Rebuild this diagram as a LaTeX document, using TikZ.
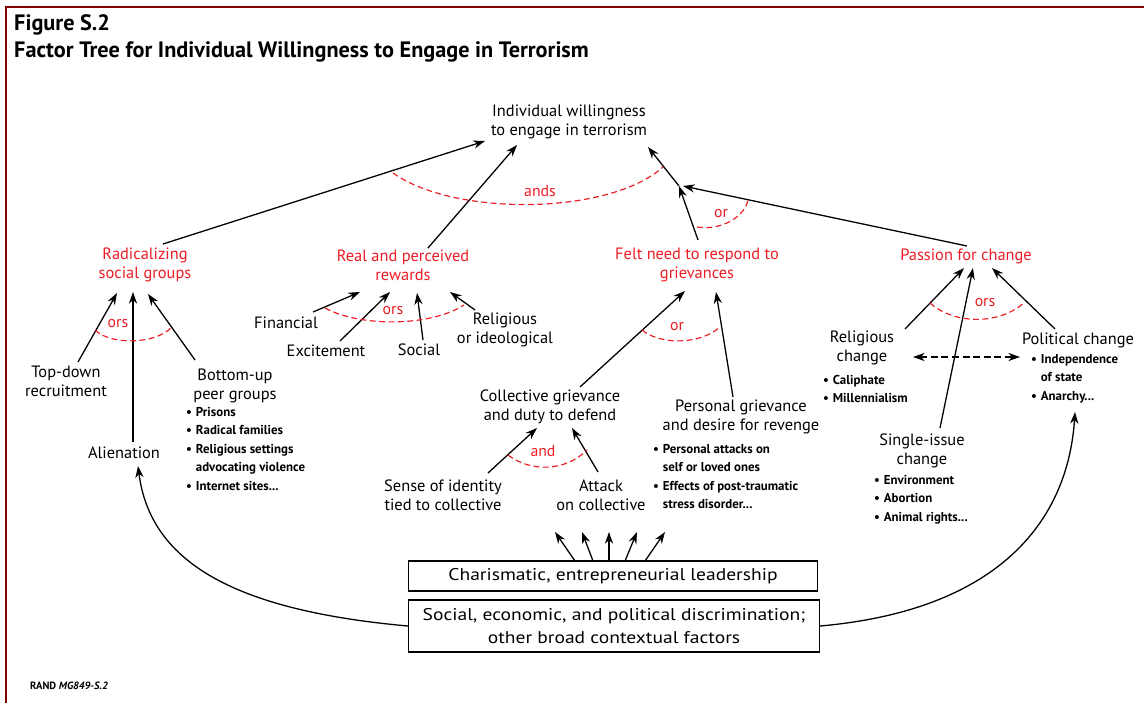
\documentclass[tikz,border=0pt]{standalone}
\usepackage{fontspec}
\setmainfont{PT Sans}
\usetikzlibrary{arrows.meta, calc, positioning}
\definecolor{factred}{RGB}{236,28,36}
\definecolor{framered}{RGB}{128,0,0}
\tikzset{
    lbl/.style={align=center, font=\fontsize{14}{16.3}\selectfont, inner sep=1pt},
    redlbl/.style={lbl, text=factred},
    oplbl/.style={text=factred, font=\fontsize{13.5}{15}\selectfont, inner sep=0pt},
    blist/.style={align=left, anchor=north west, font=\fontsize{11}{15.8}\selectfont\bfseries, inner sep=0pt},
    arrow/.style={->, >={Stealth[length=10pt, width=7pt]}, line width=1.1pt},
    ordash/.style={draw=factred, dashed, line width=1pt, dash pattern=on 5pt off 3pt},
    box/.style={rectangle, draw, line width=1.1pt, align=center, font=\fontsize{14.5}{19}\selectfont\addfontfeatures{FakeStretch=1.15}}
}
\newcommand{\bitem}{\makebox[0.75em][l]{•}}
\newcommand{\bcont}{\hspace*{0.75em}}

\begin{document}
\begin{tikzpicture}[x=0.03cm, y=-0.03cm]
    \useasboundingbox (0,0) rectangle (1144,703);
    \draw[framered, line width=2.2pt] (6,703) -- (6,7) -- (1144,7);

    % Title
    \node[anchor=base west, inner sep=0pt, font=\fontsize{19}{22}\selectfont\bfseries] (fig) at (14,31) {Figure S.2};
    \node[anchor=base west, inner sep=0pt, font=\fontsize{19}{22}\selectfont\bfseries] (title) at (14,58) {Factor Tree for Individual Willingness to Engage in Terrorism};

    % Top
    \node[lbl] (top) at (569,122) {Individual willingness\\to engage in terrorism};

    % Second level
    \node[redlbl] (rad) at (145,265) {Radicalizing\\social groups};
    \node[redlbl] (rew) at (403,265) {Real and perceived\\rewards};
    \node[redlbl] (felt) at (697,265) {Felt need to respond to\\grievances};
    \node[redlbl] (pas) at (966,256) {Passion for change};
    \coordinate (jn) at (679,186);

    \draw[arrow] ($(rad)+(18,-21)$) -- ($(top)+(-84,19)$);
    \draw[arrow] ($(rew)+(25,-17)$) -- ($(top)+(-52,23)$);
    \draw[arrow] ($(felt)+(1,-25)$) -- (jn);
    \draw[arrow] ($(pas)+(1,-10)$) -- ($(jn)+(4,0)$);
    \draw[arrow] (jn) -- ($(top)+(79,25)$);
    \draw[ordash] (393,173) .. controls (455,217) and (610,215) .. (663,167);
    \node[oplbl] (ands) at (540,191) {ands};
    \draw[ordash] (697,227) .. controls (722,231) and (745,216) .. (748,200);
    \node[oplbl] (or1) at (721,214) {or};

    % Radicalizing social groups
    \node[lbl] (topdown) at (66,381) {Top-down\\recruitment};
    \node[lbl] (alien) at (124,453) {Alienation};
    \node[lbl] (bottomup) at (235,386) {Bottom-up\\peer groups};
    \node[blist] (peerlist) at (186,407) {\bitem Prisons\\ \bitem Radical families\\ \bitem Religious settings\\ \bcont advocating violence\\ \bitem Internet sites...};
    \draw[arrow] ($(topdown)+(12,-19)$) -- ($(rad)+(-28,28)$);
    \draw[arrow] ($(alien)+(9,-11)$) -- ($(rad)+(-12,27)$);
    \draw[arrow] ($(bottomup)+(-40,-26)$) -- ($(rad)+(3,29)$);
    \draw[ordash] (95,330) .. controls (110,345) and (155,345) .. (172,327);
    \node[oplbl] (ors1) at (118,324) {ors};

    % Real and perceived rewards
    \node[lbl] (fin) at (286,323) {Financial};
    \node[lbl] (exc) at (326,351) {Excitement};
    \node[lbl] (soc) at (419,350) {Social};
    \node[lbl] (relig) at (505,330) {Religious\\or ideological};
    \draw[arrow] ($(fin)+(27,-11)$) -- ($(rew)+(-43,27)$);
    \draw[arrow] ($(exc)+(14,-10)$) -- ($(rew)+(-13,27)$);
    \draw[arrow] ($(soc)+(4,-10)$) -- ($(rew)+(14,28)$);
    \draw[arrow] ($(relig)+(-30,-20)$) -- ($(rew)+(47,27)$);
    \draw[ordash] (325,308) .. controls (360,327) and (430,327) .. (464,305);
    \node[oplbl] (ors2) at (393,311) {ors};

    % Felt need to respond to grievances
    \node[lbl] (coll) at (550,407) {Collective grievance\\and duty to defend};
    \node[lbl] (pers) at (741,417) {Personal grievance\\and desire for revenge};
    \node[blist] (perslist) at (653,444) {\bitem Personal attacks on\\ \bcont self or loved ones\\ \bitem Effects of post-traumatic\\ \bcont stress disorder...};
    \node[lbl] (ident) at (443,495) {Sense of identity\\tied to collective};
    \node[lbl] (attack) at (601,495) {Attack\\on collective};
    \draw[arrow] ($(coll)+(30,-20)$) -- ($(felt)+(-12,26)$);
    \draw[arrow] ($(pers)+(-8,-20)$) -- ($(felt)+(19,27)$);
    \draw[ordash] (642,330) .. controls (660,345) and (700,345) .. (720,327);
    \node[oplbl] (or2) at (677,327) {or};
    \draw[arrow] ($(ident)+(45,-22)$) -- ($(coll)+(-13,21)$);
    \draw[arrow] ($(attack)+(-3,-23)$) -- ($(coll)+(22,21)$);
    \draw[ordash] (508,455) .. controls (530,472) and (565,472) .. (587,450);
    \node[oplbl] (and) at (543,451) {and};

    % Passion for change
    \node[lbl] (relch) at (862,348) {Religious\\change};
    \node[blist] (relchlist) at (823,375) {\bitem Caliphate\\ \bitem Millennialism};
    \node[lbl] (polch) at (1078,340) {Political change};
    \node[blist] (polchlist) at (1031,354) {\bitem Independence\\ \bcont of state\\ \bitem Anarchy...};
    \node[lbl] (single) at (922,451) {Single-issue\\change};
    \node[blist] (singlelist) at (874,475) {\bitem Environment\\ \bitem Abortion\\ \bitem Animal rights...};
    \draw[arrow] ($(relch)+(43,-19)$) -- ($(pas)+(-2,12)$);
    \draw[arrow] ($(single)+(18,-23)$) -- ($(pas)+(7,12)$);
    \draw[arrow] ($(polch)+(-23,-11)$) -- ($(pas)+(26,12)$);
    \draw[arrow, <->, dashed, dash pattern=on 6pt off 3pt] ($(relch)+(51,9)$) -- ($(polch)+(-58,17)$);
    \draw[ordash] (930,303) .. controls (955,325) and (1000,325) .. (1025,302);
    \node[oplbl] (ors3) at (985,303) {ors};

    % Context boxes
    \node[box, minimum width=12.27cm, minimum height=0.9cm] (lead) at (613,576) {Charismatic, entrepreneurial leadership};
    \node[box, minimum width=12.33cm, minimum height=1.56cm] (disc) at (614,626) {Social, economic, and political discrimination;\\other broad contextual factors};
    \foreach \b/\t in {-38/-58, -20/-31, -4/-4, 12/24, 32/52}
        \draw[arrow] ($(lead)+(\b,-15)$) -- ($(lead)+(\t,-44)$);
    \draw[arrow] (disc.west) .. controls (230,610) and (150,560) .. ($(alien)+(14,13)$);
    \draw[arrow] (disc.east) .. controls (1000,610) and (1068,520) .. ($(polch)+(-3,72)$);

    \node[anchor=west, inner sep=0pt, font=\fontsize{9}{10}\selectfont\bfseries] (rand) at (30,686) {RAND \textit{MG849-S.2}};
\end{tikzpicture}
\end{document}
